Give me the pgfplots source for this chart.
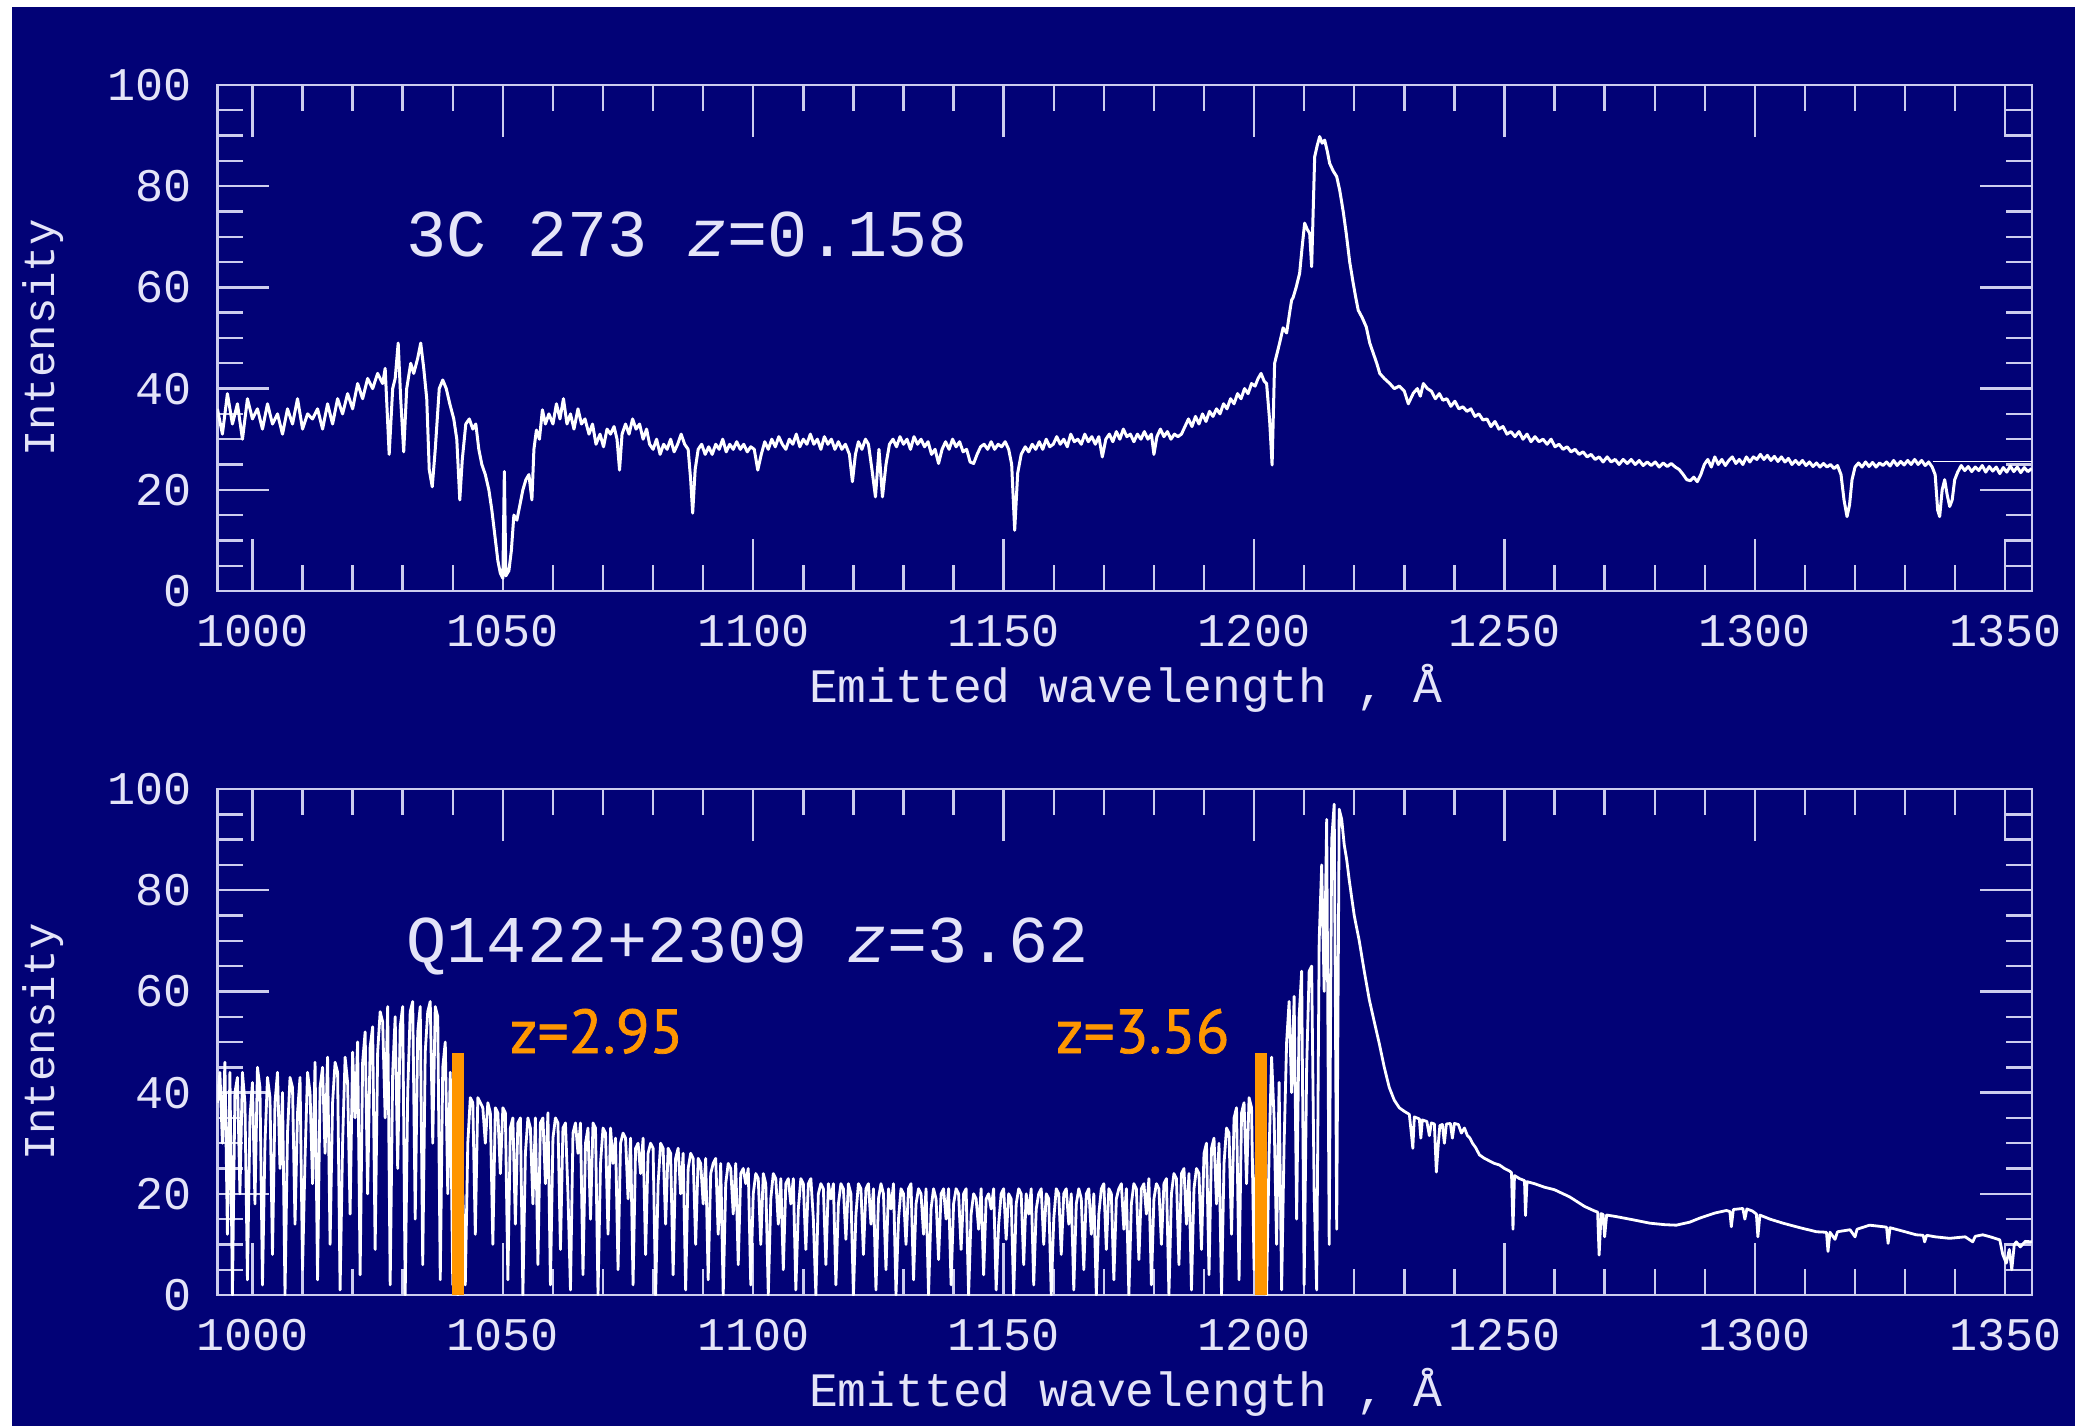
\documentclass[border=0pt]{standalone}
\usepackage{fontspec}
\usepackage{pgfplots}
\pgfplotsset{compat=1.18}
\newfontfamily\hers{Liberation Mono}
\newfontfamily\gill[FakeBold=1.2]{PT Sans}
\definecolor{bg}{RGB}{2,2,118}
\definecolor{axcol}{RGB}{205,205,238}
\definecolor{txtcol}{RGB}{228,228,248}
\definecolor{zorange}{RGB}{255,150,0}
\newcommand\tickfont{\hers\fontsize{11.7}{14}\selectfont}
\pgfplotsset{
  spec/.style={
    scale only axis, width=453.6pt, height=126.5pt, anchor=south west,
    xmin=993, xmax=1355.3, ymin=0, ymax=100,
    xtick={1000,1050,...,1350}, minor x tick num=4,
    ytick={0,20,...,100}, minor y tick num=3,
    major tick length=13pt, minor tick length=6.5pt,
    tick align=inside, xtick pos=both, ytick pos=both,
    xticklabel pos=bottom, yticklabel pos=left,
    axis line style={axcol, line width=0.6pt},
    tick style={axcol, line width=0.6pt},
    ticklabel style={font=\tickfont, text=txtcol},
    xticklabel style={yshift=-2.5pt},
    yticklabel style={xshift=-2.9pt},
    /pgf/number format/assume math mode=true,
    /pgf/number format/1000 sep={},
  },
  spline/.style={white, line width=0.75pt, line join=round},
}
\begin{document}
\begin{tikzpicture}
\fill[white] (0,0) rectangle (518.75pt,356.5pt);
\fill[bg] (3pt,0) rectangle (518.75pt,354.75pt);
% ---------------- top panel: 3C 273 ----------------
\begin{axis}[spec, at={(54.35pt,208.75pt)}]
\addplot[spline] coordinates {
(993,36)(994,31)(995,39)(996,33)(997,37)(998,30)(999,38)(1000,34)(1001,36)(1002,32)(1003,37)(1004,33)(1005,35)(1006,31)(1007,36)(1008,33)(1009,38)(1010,32)(1011,35)(1012,34)(1013,36)(1014,32)(1015,37)(1016,33)(1017,38)(1018,35)(1019,39)(1020,36)(1021,41)(1022,38)(1023,42)(1024,40)(1025,43)(1026,41)(1026.5,44)(1027.3,27)(1028,40)(1028.5,42)(1029.1,49)(1029.6,38)(1030.2,27.5)(1030.8,40)(1031.6,45)(1032.2,43)(1033,46)(1033.6,49)(1034.2,44)(1034.8,38)(1035.3,24)(1035.9,20.6)(1036.5,28)(1037.3,40)(1038,41.7)(1038.7,40)(1039.4,37)(1040.2,34)(1040.8,30)(1041.4,18)(1041.9,26)(1042.6,33)(1043.3,34)(1044,32)(1044.6,33)(1045.2,28)(1045.8,25)(1046.5,23)(1047.2,20)(1047.8,16)(1048.4,11)(1049,6)(1049.5,3.5)(1050,2.5)(1050.3,23.6)(1050.6,3)(1051.2,4)(1051.7,8)(1052.2,15)(1052.8,14)(1053.4,17)(1054,20)(1054.6,22)(1055.2,23)(1055.8,18)(1056.2,28)(1056.7,31.8)(1057.3,30)(1057.9,35.8)(1058.5,33)(1059.2,35)(1060,33)(1060.7,37)(1061.4,34)(1062.1,38)(1062.8,33)(1063.5,35)(1064.2,32)(1065,36)(1065.7,33)(1066.4,34)(1067.2,31)(1067.9,33)(1068.6,29)(1069.4,31)(1070.1,28.5)(1070.8,32)(1071.5,31)(1072.2,32.5)(1072.8,30)(1073.3,23.9)(1073.8,31)(1074.5,33)(1075.2,31)(1075.9,34)(1076.6,32)(1077.3,33)(1078,30)(1078.7,32)(1079.3,29)(1080,28)(1080.7,30)(1081.4,27)(1082.1,29)(1082.8,28)(1083.5,30)(1084.2,27.5)(1084.9,29)(1085.6,31)(1086.3,29)(1087,28)(1087.5,22)(1087.9,15.4)(1088.4,24)(1089,28)(1089.7,29)(1090.4,27)(1091.1,28.5)(1091.8,27)(1092.5,29)(1093.2,28)(1093.9,30)(1094.6,27.5)(1095.3,29)(1096,28)(1096.7,29.5)(1097.4,28)(1098.1,29)(1098.8,27.5)(1099.5,28.5)(1100.2,28)(1100.9,23.9)(1101.6,27)(1102.3,29.5)(1103,28)(1103.7,30)(1104.4,28.5)(1105.1,30.5)(1105.8,29)(1106.5,28)(1107.2,30)(1107.9,29)(1108.6,31)(1109.3,28.5)(1110,30)(1110.7,29)(1111.4,31)(1112.1,29)(1112.8,30)(1113.5,28)(1114.2,30.5)(1114.9,29)(1115.6,30)(1116.3,28)(1117,29.5)(1117.7,28)(1118.4,29)(1119.2,27)(1119.8,21.6)(1120.4,27)(1121,29.5)(1121.7,28)(1122.4,30)(1123,29)(1123.7,24)(1124.4,18.6)(1125.1,28)(1125.8,18.6)(1126.5,25)(1127.2,29)(1127.9,30)(1128.6,28.5)(1129.3,30.5)(1130,29)(1130.7,30)(1131.4,28)(1132.1,30.5)(1132.8,29)(1133.5,30)(1134.2,28.5)(1134.9,29.5)(1135.6,27)(1136.3,28)(1137,25.2)(1137.7,28)(1138.4,29.5)(1139.1,28)(1139.8,30)(1140.5,28.5)(1141.2,29.5)(1141.9,27.5)(1142.6,28)(1143.3,25.5)(1144,25.2)(1144.7,27)(1145.4,28.5)(1146.1,29)(1146.8,28)(1147.5,29.5)(1148.2,28)(1148.9,29)(1149.6,28.5)(1150.3,29.5)(1151,28)(1151.6,25)(1152.2,12)(1152.8,23.3)(1153.5,27)(1154.3,28.5)(1155,27.5)(1155.7,29)(1156.4,28)(1157.1,29.5)(1157.8,28)(1158.5,30)(1159.2,28.5)(1159.9,29)(1160.6,30.5)(1161.3,29)(1162,30)(1162.7,28.5)(1163.4,31)(1164.1,29.5)(1164.8,30)(1165.5,29)(1166.2,31)(1166.9,29.5)(1167.6,30.5)(1168.3,29)(1169,30.5)(1169.7,26.5)(1170.4,30)(1171.1,31)(1171.8,29.5)(1172.5,31.5)(1173.2,30)(1173.9,32)(1174.6,30.5)(1175.3,31)(1176,29.5)(1176.7,31)(1177.4,30)(1178.1,31.5)(1178.8,30)(1179.5,31)(1180,27)(1180.6,30.5)(1181.3,32)(1182,30.5)(1182.7,31.5)(1183.4,30)(1184.1,31)(1184.8,30.5)(1185.5,31)(1186.2,32.5)(1186.9,34)(1187.6,32.5)(1188.3,34.5)(1189,33)(1189.7,35)(1190.4,33.5)(1191.1,35.5)(1191.8,34.5)(1192.5,36)(1193.2,35)(1193.9,37)(1194.6,36)(1195.3,38)(1196,37)(1196.7,39)(1197.4,38)(1198.1,40)(1198.8,39)(1199.5,41)(1200.2,40.5)(1200.8,42)(1201.4,43)(1202,41.5)(1202.5,41)(1203.1,33.8)(1203.6,24.9)(1204.1,45)(1205.1,49)(1205.8,52)(1206.5,51)(1207.1,55)(1207.5,57.5)(1207.8,58)(1208.4,60)(1209.1,62.8)(1209.6,68)(1210.1,72.7)(1210.6,71.5)(1211.1,70.7)(1211.5,64.1)(1211.8,75)(1212.1,85.8)(1212.6,88)(1213.1,89.8)(1213.6,88.5)(1214.1,89.1)(1214.6,87)(1215.1,84.5)(1215.8,83)(1216.5,81.9)(1217.1,79.2)(1217.8,75)(1218.4,70.7)(1219.1,65)(1219.8,60.8)(1220.3,58)(1220.8,55.5)(1221.6,54)(1222.4,52.2)(1223.1,49)(1223.8,47)(1224.5,45)(1225.1,43)(1226,42)(1227.1,41)(1228,40)(1229,40.5)(1230,39.5)(1230.8,37)(1231.8,39.1)(1232.6,40)(1233.2,38.5)(1233.8,41)(1234.6,40)(1235.4,39.5)(1236.2,38)(1237,39)(1237.7,37.7)(1238.5,38)(1239.3,36.5)(1240.1,37.5)(1240.9,36)(1241.7,36.4)(1242.5,35.5)(1243.3,36)(1244.1,34.5)(1244.9,35)(1245.7,33.8)(1246.5,34)(1247.3,32.5)(1248.1,33.5)(1248.9,32)(1249.7,32.5)(1250.5,31)(1251.3,31.5)(1252.1,30.5)(1252.9,31.5)(1253.7,30)(1254.5,31)(1255.3,29.5)(1256.1,30.5)(1256.9,29.5)(1257.7,30)(1258.5,29)(1259.3,30)(1260.1,28.5)(1260.9,29)(1261.7,28)(1262.5,28.5)(1263.3,27.5)(1264.1,28)(1264.9,27)(1265.7,27.5)(1266.5,26.5)(1267.3,27)(1268.1,26)(1268.9,26.5)(1269.7,25.5)(1270.5,26.5)(1271.3,25.5)(1272.1,26)(1272.9,25)(1273.7,26)(1274.5,25.2)(1275.3,26)(1276.1,25)(1276.9,25.8)(1277.7,24.8)(1278.5,25.5)(1279.3,24.8)(1280.1,25.5)(1280.9,24.5)(1281.7,25.3)(1282.5,24.6)(1283.3,25.2)(1284.1,24.5)(1284.9,24)(1285.7,23)(1286.4,22)(1287.1,21.8)(1287.8,22.5)(1288.5,21.6)(1289.2,23)(1289.9,25)(1290.6,26)(1291.3,24.5)(1292,26.5)(1292.7,25)(1293.4,26)(1294.1,24.8)(1294.8,25.8)(1295.5,26.5)(1296.2,25.2)(1296.9,26)(1297.6,25)(1298.3,26.5)(1299,25.5)(1299.7,26.5)(1300.4,26)(1301.1,27)(1301.8,26)(1302.5,26.8)(1303.2,25.8)(1303.9,26.6)(1304.6,25.6)(1305.3,26.5)(1306,25.5)(1306.7,26.2)(1307.4,25)(1308.1,25.8)(1308.8,25)(1309.5,25.8)(1310.2,24.8)(1310.9,25.5)(1311.6,24.6)(1312.3,25.3)(1313,24.5)(1313.7,25.2)(1314.4,24.5)(1315.1,25)(1315.8,24.2)(1316.5,24.8)(1317.2,23)(1317.8,18)(1318.4,14.7)(1318.9,17)(1319.4,22)(1320,24.5)(1320.7,25.3)(1321.4,24.5)(1322.1,25.5)(1322.8,24.6)(1323.5,25.4)(1324.2,24.5)(1324.9,25.3)(1325.6,24.8)(1326.3,25.5)(1327,24.7)(1327.7,25.8)(1328.4,24.8)(1329.1,25.6)(1329.8,24.9)(1330.5,25.8)(1331.2,25)(1331.9,26)(1332.6,25)(1333.3,25.8)(1334,24.8)(1334.7,25.5)(1335.4,24.5)(1336,23)(1336.5,16)(1336.9,14.7)(1337.4,20)(1337.9,22)(1338.4,19)(1338.9,16.7)(1339.4,18)(1339.9,22)(1340.5,23.5)(1341.2,24.8)(1341.9,23.8)(1342.6,24.6)(1343.3,23.6)(1344,24.5)(1344.7,23.8)(1345.4,24.8)(1346.1,23.5)(1346.8,24.6)(1347.5,23.7)(1348.2,24.5)(1348.9,23.2)(1349.6,24.4)(1350.3,23.5)(1351,24.7)(1351.7,23.6)(1352.4,24.5)(1353.1,23.4)(1353.8,24.4)(1354.5,23.6)(1355.3,24.2)
};
\addplot[white, line width=0.45pt] coordinates {(1335.5,25.6)(1355.3,25.6)};
\end{axis}
% ---------------- bottom panel: Q1422+2309 ----------------
\begin{axis}[spec, at={(54.35pt,32.75pt)}]
\addplot[spline, line width=0.7pt] coordinates {
(993,38)(993.5,44)(994,30)(994.5,46)(995,12)(995.5,44)(996,0)(996.5,40)(997,43)(997.5,20)(998,44)(998.5,38)(999,3)(999.5,35)(1000,42)(1000.5,18)(1001,45)(1001.5,41)(1002,2)(1002.5,30)(1003,43)(1003.5,39)(1004,8)(1004.5,38)(1005,44)(1005.5,25)(1006,40)(1006.5,0)(1007,32)(1007.5,43)(1008,41)(1008.5,14)(1009,36)(1009.5,43)(1010,5)(1010.5,27)(1011,44)(1011.5,40)(1012,22)(1012.5,46)(1013,3)(1013.5,41)(1014,45)(1014.5,28)(1015,47)(1015.5,10)(1016,38)(1016.5,46)(1017,44)(1017.5,1)(1018,30)(1018.5,47)(1019,42)(1019.5,16)(1020,48)(1020.5,35)(1021,50)(1021.5,4)(1022,46)(1022.5,52)(1023,20)(1023.5,49)(1024,53)(1024.5,9)(1025,48)(1025.5,56)(1026,54)(1026.5,35)(1027,57)(1027.5,2)(1028,44)(1028.5,55)(1029,25)(1029.5,53)(1030,57)(1030.5,0)(1031,40)(1031.5,56)(1032,58)(1032.5,15)(1033,52)(1033.5,57)(1034,6)(1034.5,48)(1035,56)(1035.5,58)(1036,30)(1036.5,57)(1037,55)(1037.5,3)(1038,45)(1038.5,50)(1039,20)(1039.5,44)(1040,2)(1040.5,8)(1041,0)(1041.5,5)(1042,20)(1042.5,2)(1043,30)(1043.5,39)(1044,38)(1044.5,12)(1045,39)(1045.5,38)(1046,37)(1046.5,30)(1047,38)(1047.5,36)(1048,10)(1048.5,37)(1049,36)(1049.5,24)(1050,37)(1050.5,36)(1051,3)(1051.5,33)(1052,35)(1052.5,14)(1053,34)(1053.5,35)(1054,0)(1054.5,28)(1055,35)(1055.5,33)(1056,18)(1056.5,35)(1057,6)(1057.5,34)(1058,35)(1058.5,22)(1059,36)(1059.5,2)(1060,31)(1060.5,35)(1061,34)(1061.5,9)(1062,33)(1062.5,34)(1063,20)(1063.5,1)(1064,32)(1064.5,34)(1065,28)(1065.5,34)(1066,4)(1066.5,30)(1067,33)(1067.5,15)(1068,34)(1068.5,33)(1069,0)(1069.5,26)(1070,33)(1070.5,32)(1071,12)(1071.5,33)(1072,26)(1072.5,31)(1073,5)(1073.5,30)(1074,32)(1074.5,31)(1075,19)(1075.5,31)(1076,2)(1076.5,29)(1077,30)(1077.5,24)(1078,31)(1078.5,8)(1079,28)(1079.5,30)(1080,29)(1080.5,0)(1081,22)(1081.5,30)(1082,29)(1082.5,14)(1083,29)(1083.5,28)(1084,4)(1084.5,27)(1085,29)(1085.5,20)(1086,28)(1086.5,1)(1087,25)(1087.5,28)(1088,27)(1088.5,10)(1089,27)(1089.5,26)(1090,18)(1090.5,27)(1091,3)(1091.5,24)(1092,26)(1092.5,27)(1093,12)(1093.5,26)(1094,0)(1094.5,22)(1095,26)(1095.5,25)(1096,16)(1096.5,26)(1097,6)(1097.5,24)(1098,25)(1098.5,22)(1099,25)(1099.5,2)(1100,20)(1100.5,24)(1101,23)(1101.5,10)(1102,24)(1102.5,22)(1103,0)(1103.5,19)(1104,24)(1104.5,23)(1105,14)(1105.5,23)(1106,5)(1106.5,22)(1107,23)(1107.5,18)(1108,23)(1108.5,1)(1109,17)(1109.5,23)(1110,22)(1110.5,9)(1111,22)(1111.5,23)(1112,15)(1112.5,0)(1113,20)(1113.5,22)(1114,21)(1114.5,6)(1115,22)(1115.5,19)(1116,22)(1116.5,2)(1117,18)(1117.5,22)(1118,21)(1118.5,11)(1119,22)(1119.5,20)(1120,0)(1120.5,16)(1121,22)(1121.5,21)(1122,8)(1122.5,21)(1123,22)(1123.5,14)(1124,21)(1124.5,1)(1125,19)(1125.5,22)(1126,20)(1126.5,5)(1127,21)(1127.5,17)(1128,22)(1128.5,0)(1129,15)(1129.5,21)(1130,20)(1130.5,10)(1131,21)(1131.5,22)(1132,3)(1132.5,18)(1133,21)(1133.5,20)(1134,12)(1134.5,21)(1135,0)(1135.5,17)(1136,21)(1136.5,19)(1137,7)(1137.5,20)(1138,21)(1138.5,15)(1139,21)(1139.5,2)(1140,18)(1140.5,21)(1141,20)(1141.5,9)(1142,20)(1142.5,21)(1143,0)(1143.5,16)(1144,20)(1144.5,19)(1145,13)(1145.5,21)(1146,4)(1146.5,19)(1147,20)(1147.5,17)(1148,21)(1148.5,1)(1149,14)(1149.5,20)(1150,21)(1150.5,11)(1151,20)(1151.5,19)(1152,0)(1152.5,18)(1153,21)(1153.5,20)(1154,6)(1154.5,20)(1155,16)(1155.5,21)(1156,2)(1156.5,17)(1157,20)(1157.5,21)(1158,10)(1158.5,20)(1159,19)(1159.5,0)(1160,15)(1160.5,21)(1161,20)(1161.5,8)(1162,20)(1162.5,21)(1163,14)(1163.5,20)(1164,1)(1164.5,18)(1165,21)(1165.5,19)(1166,5)(1166.5,20)(1167,21)(1167.5,12)(1168,20)(1168.5,0)(1169,16)(1169.5,21)(1170,22)(1170.5,9)(1171,21)(1171.5,20)(1172,3)(1172.5,19)(1173,21)(1173.5,22)(1174,13)(1174.5,21)(1175,0)(1175.5,18)(1176,22)(1176.5,21)(1177,7)(1177.5,21)(1178,22)(1178.5,16)(1179,23)(1179.5,2)(1180,19)(1180.5,22)(1181,21)(1181.5,10)(1182,22)(1182.5,23)(1183,0)(1183.5,20)(1184,24)(1184.5,23)(1185,6)(1185.5,24)(1186,25)(1186.5,14)(1187,24)(1187.5,1)(1188,21)(1188.5,25)(1189,24)(1189.5,9)(1190,28)(1190.5,30)(1191,4)(1191.5,29)(1192,31)(1192.5,18)(1193,30)(1193.5,0)(1194,26)(1194.5,33)(1195,32)(1195.5,12)(1196,35)(1196.5,37)(1197,3)(1197.5,36)(1198,38)(1198.5,22)(1199,39)(1199.5,37)(1200,5)(1200.5,30)(1201,38)(1201.5,12)(1202,34)(1202.5,0)(1203,28)(1203.5,47)(1204,35)(1204.5,10)(1205,42)(1205.5,1)(1206,30)(1206.5,50)(1207,58)(1207.5,40)(1208,59)(1208.5,15)(1209,55)(1209.5,64)(1210,2)(1210.5,45)(1211,64)(1211.5,65)(1212,20)(1212.5,1)(1213,70)(1213.5,85)(1214,60)(1214.5,94)(1215,10)(1215.5,90)(1216,97)(1216.5,13)(1217,96)(1217.5,94)(1218,89)(1218.5,86)
(1219,82)(1220,75)(1221,70)(1222,64)(1223,58.4)(1224,54)(1225,49.7)(1226,45)(1227,41)(1228,38.5)(1229,37)(1230,36.3)(1231,35.7)(1231.4,32)(1231.7,29)(1232,35.2)(1233,34.8)(1233.3,31)(1233.6,34.6)(1234.5,34.3)(1235,31.5)(1235.4,34)(1236,33.8)(1236.4,24.3)(1236.8,30)(1237.1,33.5)(1237.6,33.7)(1238,30)(1238.4,33.8)(1239.2,33.9)(1239.6,31)(1240,33.9)(1240.8,33.7)(1241.4,32)(1242,33)(1242.6,31.5)(1243.1,31)(1243.6,30)(1244.2,29.2)(1245,27.7)(1246,27)(1247,26.5)(1248,26)(1249,25.7)(1250,25)(1251,24.5)(1251.4,24.2)(1251.7,13)(1252,23.6)(1253,23)(1254,22.6)(1254.2,15.7)(1254.5,22.4)(1256,22)(1258,21.3)(1260,20.8)(1263,19.4)(1266,17.5)(1268,16.6)(1268.6,16.4)(1268.9,7.9)(1269.3,16.1)(1269.7,15.9)(1270,11.5)(1270.4,15.8)(1272.3,15.5)(1276,14.8)(1279,14.2)(1282,13.9)(1284.3,13.8)(1287,14.4)(1289,15.2)(1292,16.2)(1294.3,16.7)(1295,16.5)(1295.3,13.5)(1295.7,16.9)(1297.6,17.1)(1298,15)(1298.4,17)(1299.5,16.6)(1300.3,16)(1300.6,11.5)(1301,15.8)(1303,15)(1305.6,14.2)(1309,13.3)(1312.3,12.5)(1314.3,12.4)(1314.6,8.6)(1315,12.4)(1316,11)(1316.5,12.5)(1319,12.9)(1320,11.5)(1320.4,13)(1322.9,13.8)(1325.6,13.5)(1326.3,13.4)(1326.6,10.2)(1327,13.3)(1330,12.5)(1332.2,11.9)(1333.6,11.8)(1333.9,10.5)(1334.3,11.8)(1336,11.5)(1338.9,11.2)(1342,11.5)(1343.5,10.5)(1344,11.6)(1345.5,11.9)(1347,11.5)(1348.9,10.9)(1349.5,8)(1350.2,6.3)(1350.8,9)(1351.3,5)(1351.8,10)(1352.2,10.5)(1353,9.5)(1354,10.6)(1355.3,10.5)
};
\addplot[ycomb, zorange, line width=3pt, line cap=butt] coordinates {(1041,47.8)(1201.3,47.8)};
\end{axis}
% ---------------- labels ----------------
\begin{scope}[text=txtcol]
\node[font=\hers\fontsize{11}{13}\selectfont, rotate=90] at (10.75pt,272pt) {Intensity};
\node[font=\hers\fontsize{11}{13}\selectfont, rotate=90] at (10.75pt,96pt) {Intensity};
\node[font=\hers\fontsize{12}{14}\selectfont] at (281.5pt,184.5pt) {Emitted wavelength , Å};
\node[font=\hers\fontsize{12}{14}\selectfont] at (281.5pt,8.5pt) {Emitted wavelength , Å};
\node[font=\hers\fontsize{16.7}{19}\selectfont, anchor=base west, inner sep=0pt] at (101.5pt,292.25pt) {3C 273 {\itshape z}=0.158};
\node[font=\hers\fontsize{16.7}{19}\selectfont, anchor=base west, inner sep=0pt] at (101.5pt,116pt) {Q1422+2309 {\itshape z}=3.62};
\end{scope}
\node[font=\gill\fontsize{15.5}{18}\selectfont, text=zorange, anchor=base west, inner sep=0pt] at (127.25pt,93.25pt) {z=2.95};
\node[font=\gill\fontsize{15.5}{18}\selectfont, text=zorange, anchor=base west, inner sep=0pt] at (263.75pt,93.25pt) {z=3.56};
\pgfresetboundingbox
\path (0,0) rectangle (518.75pt,356.5pt);
\end{tikzpicture}
\end{document}
